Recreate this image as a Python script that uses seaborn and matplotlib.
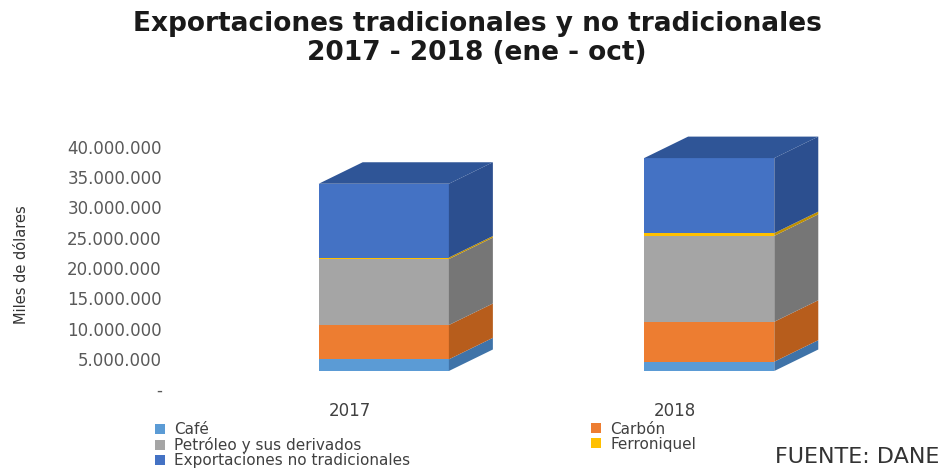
import numpy as np
import pandas as pd
import matplotlib
matplotlib.use("Agg")
import matplotlib.pyplot as plt
from matplotlib.patches import Polygon, Patch
from matplotlib.transforms import ScaledTranslation
from matplotlib.ticker import FuncFormatter, MultipleLocator
import seaborn as sns

# Exports, January-October, in thousands of US dollars
years = ["2017", "2018"]
cafe = [1.93e6, 1.54e6]
carbon = [5.67e6, 6.60e6]
petroleo = [10.90e6, 14.20e6]
ferroniquel = [0.25e6, 0.45e6]
no_tradicionales = [12.20e6, 12.40e6]

series_names = ["Café", "Carbón", "Petróleo y sus derivados", "Ferroniquel",
                "Exportaciones no tradicionales"]
series_values = [cafe, carbon, petroleo, ferroniquel, no_tradicionales]

front_colors = ["#5B9BD5", "#ED7D31", "#A5A5A5", "#FFC000", "#4472C4"]
side_colors = ["#3F73A8", "#B75D1C", "#767676", "#BF9000", "#2C4F8F"]
top_color = "#2F5597"

DPI = 100
DEPTH_PX = (44, 21.5)   # pseudo-3D depth of the columns, in pixels
LIFT_PX = 18            # columns float slightly above the value axis floor

sns.set_theme(style="white")
plt.rcParams["font.family"] = ["DejaVu Sans"]

fig = plt.figure(figsize=(9.52, 4.73), dpi=DPI)
ax = fig.add_axes([166 / 952, 84 / 473, 714 / 952, 254.1 / 473])

# cumulative bounds of every stacked segment
cum = np.zeros(len(years))
bounds = []
for vals in series_values:
    lo = cum.copy()
    cum = cum + np.asarray(vals, dtype=float)
    bounds.append((lo, cum.copy()))

# front faces: cumulative heights drawn from the top segment down
df = pd.DataFrame({"Año": years})
for i in reversed(range(len(series_names))):
    df["altura"] = bounds[i][1]
    sns.barplot(data=df, x="Año", y="altura", color=front_colors[i],
                saturation=1, width=0.4, errorbar=None, linewidth=0, ax=ax)

ax.set_xlim(-0.6693, 1.5249)
ax.set_ylim(0, 42e6)

lift = ax.transData + ScaledTranslation(0, LIFT_PX / DPI, fig.dpi_scale_trans)
front_bars = list(ax.patches)
for p in front_bars:
    p.set_transform(lift)
    p.set_clip_on(False)

# depth offset expressed in data units
inv = ax.transData.inverted()
o = inv.transform((0, 0))
d = inv.transform(DEPTH_PX)
dx, dy = d[0] - o[0], d[1] - o[1]

for j in range(len(years)):
    x0 = front_bars[j].get_x()
    x1 = x0 + front_bars[j].get_width()
    for i in range(len(series_names)):
        lo, hi = bounds[i][0][j], bounds[i][1][j]
        ax.add_patch(Polygon([(x1, lo), (x1 + dx, lo + dy), (x1 + dx, hi + dy), (x1, hi)],
                             closed=True, facecolor=side_colors[i], edgecolor="none",
                             transform=lift, clip_on=False))
    top = bounds[-1][1][j]
    ax.add_patch(Polygon([(x0, top), (x0 + dx, top + dy), (x1 + dx, top + dy), (x1, top)],
                         closed=True, facecolor=top_color, edgecolor="none",
                         transform=lift, clip_on=False))

# axes styling
for s in ax.spines.values():
    s.set_visible(False)
ax.grid(False)
ax.set_xlabel("")
ax.set_ylabel("")
ax.yaxis.set_major_locator(MultipleLocator(5e6))
ax.yaxis.set_major_formatter(FuncFormatter(
    lambda v, _: "-" if v == 0 else f"{int(round(v)):,}".replace(",", ".")))
ax.set_ylim(0, 42e6)
ax.set_yticks(np.arange(0, 40e6 + 1, 5e6))
ax.tick_params(axis="y", length=0, pad=3, labelsize=12, labelcolor="#595959")
ax.tick_params(axis="x", length=0, pad=9, labelsize=12, labelcolor="#404040")
for lbl in ax.get_xticklabels():
    lbl.set_transform(lbl.get_transform() + ScaledTranslation(-34 / DPI, 0, fig.dpi_scale_trans))

fig.text(22 / 952, 1 - 265 / 473, "Miles de dólares", rotation=90, ha="center", va="center",
         fontsize=10.5, color="#333333")

fig.text(477 / 952, 1 - 38.5 / 473,
         "Exportaciones tradicionales y no tradicionales\n2017 - 2018 (ene - oct)",
         ha="center", va="center", fontsize=19, fontweight="bold", family="DejaVu Sans",
         linespacing=1.12, color="#1A1A1A")

handles = [Patch(facecolor=c, edgecolor="none") for c in front_colors]
leg_kw = dict(frameon=False, fontsize=11, handlelength=0.65, handleheight=0.65,
              handletextpad=0.6, labelspacing=0.0, borderpad=0, borderaxespad=0,
              labelcolor="#404040", loc="center left")
fig.legend([handles[0], handles[2], handles[4]],
           [series_names[0], series_names[2], series_names[4]],
           bbox_to_anchor=(155 / 952, 1 - 445 / 473), **leg_kw)
fig.legend([handles[1], handles[3]], [series_names[1], series_names[3]],
           bbox_to_anchor=(591 / 952, 1 - 436.5 / 473), **leg_kw)

fig.text(857 / 952, 1 - 457 / 473, "FUENTE: DANE", ha="center", va="center",
         fontsize=16, color="#333333")

fig.savefig("out.png", dpi=DPI)
